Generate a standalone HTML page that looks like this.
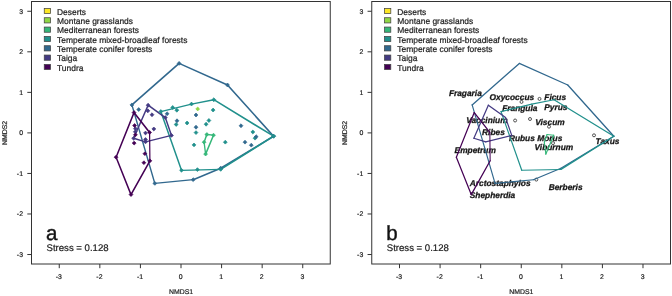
<!DOCTYPE html>
<html><head><meta charset="utf-8"><title>NMDS</title>
<style>
html,body{margin:0;padding:0;background:#fff;}
body{width:672px;height:296px;overflow:hidden;}
svg{display:block;font-family:"Liberation Sans",sans-serif;text-rendering:geometricPrecision;}
text{stroke:#222;stroke-width:0.2px;}
.tk{font-size:6.9px;fill:#222;}
.lg{font-size:8.45px;fill:#222;}
.sp{font-size:8.35px;stroke-width:0.28px;font-weight:bold;font-style:italic;fill:#111;}
.big{font-size:20.5px;fill:#111;stroke-width:0.45px;}
.st{font-size:9.6px;fill:#222;}
</style></head><body>
<svg width="672" height="296" viewBox="0 0 672 296">
<rect width="672" height="296" fill="#fff"/>
<g transform="translate(0,0)">
<rect x="31.5" y="1.5" width="298.75" height="262.5" fill="#fff" stroke="#333" stroke-width="1"/>
<line x1="59.26" y1="264.0" x2="59.26" y2="268.2" stroke="#333" stroke-width="1"/>
<text class="tk" x="58.86" y="278.8" text-anchor="middle">-3</text>
<line x1="27.3" y1="254.52" x2="31.5" y2="254.52" stroke="#333" stroke-width="1"/>
<text class="tk" x="23.0" y="256.82" text-anchor="end">-3</text>
<line x1="99.84" y1="264.0" x2="99.84" y2="268.2" stroke="#333" stroke-width="1"/>
<text class="tk" x="99.44" y="278.8" text-anchor="middle">-2</text>
<line x1="27.3" y1="213.98" x2="31.5" y2="213.98" stroke="#333" stroke-width="1"/>
<text class="tk" x="23.0" y="216.28" text-anchor="end">-2</text>
<line x1="140.42" y1="264.0" x2="140.42" y2="268.2" stroke="#333" stroke-width="1"/>
<text class="tk" x="140.02" y="278.8" text-anchor="middle">-1</text>
<line x1="27.3" y1="173.44" x2="31.5" y2="173.44" stroke="#333" stroke-width="1"/>
<text class="tk" x="23.0" y="175.74" text-anchor="end">-1</text>
<line x1="181.00" y1="264.0" x2="181.00" y2="268.2" stroke="#333" stroke-width="1"/>
<text class="tk" x="180.60" y="278.8" text-anchor="middle">0</text>
<line x1="27.3" y1="132.90" x2="31.5" y2="132.90" stroke="#333" stroke-width="1"/>
<text class="tk" x="23.0" y="135.20" text-anchor="end">0</text>
<line x1="221.58" y1="264.0" x2="221.58" y2="268.2" stroke="#333" stroke-width="1"/>
<text class="tk" x="221.18" y="278.8" text-anchor="middle">1</text>
<line x1="27.3" y1="92.36" x2="31.5" y2="92.36" stroke="#333" stroke-width="1"/>
<text class="tk" x="23.0" y="94.66" text-anchor="end">1</text>
<line x1="262.16" y1="264.0" x2="262.16" y2="268.2" stroke="#333" stroke-width="1"/>
<text class="tk" x="261.76" y="278.8" text-anchor="middle">2</text>
<line x1="27.3" y1="51.82" x2="31.5" y2="51.82" stroke="#333" stroke-width="1"/>
<text class="tk" x="23.0" y="54.12" text-anchor="end">2</text>
<line x1="302.74" y1="264.0" x2="302.74" y2="268.2" stroke="#333" stroke-width="1"/>
<text class="tk" x="302.34" y="278.8" text-anchor="middle">3</text>
<line x1="27.3" y1="11.28" x2="31.5" y2="11.28" stroke="#333" stroke-width="1"/>
<text class="tk" x="23.0" y="13.58" text-anchor="end">3</text>
<text class="tk" x="181.0" y="294.4" text-anchor="middle">NMDS1</text>
<text class="tk" transform="translate(7.2,132.9) rotate(-90)" text-anchor="middle">NMDS2</text>
<rect x="44.25" y="8.40" width="6.3" height="5.2" fill="#FDE725" stroke="#444" stroke-width="0.75"/>
<text class="lg" x="57" y="14.60">Deserts</text>
<rect x="44.25" y="17.73" width="6.3" height="5.2" fill="#8FD744" stroke="#444" stroke-width="0.75"/>
<text class="lg" x="57" y="23.93">Montane grasslands</text>
<rect x="44.25" y="27.06" width="6.3" height="5.2" fill="#35B779" stroke="#444" stroke-width="0.75"/>
<text class="lg" x="57" y="33.26">Mediterranean forests</text>
<rect x="44.25" y="36.39" width="6.3" height="5.2" fill="#21908C" stroke="#444" stroke-width="0.75"/>
<text class="lg" x="57" y="42.59">Temperate mixed-broadleaf forests</text>
<rect x="44.25" y="45.72" width="6.3" height="5.2" fill="#31688E" stroke="#444" stroke-width="0.75"/>
<text class="lg" x="57" y="51.92">Temperate conifer forests</text>
<rect x="44.25" y="55.05" width="6.3" height="5.2" fill="#443A83" stroke="#444" stroke-width="0.75"/>
<text class="lg" x="57" y="61.25">Taiga</text>
<rect x="44.25" y="64.38" width="6.3" height="5.2" fill="#440154" stroke="#444" stroke-width="0.75"/>
<text class="lg" x="57" y="70.58">Tundra</text>
<line x1="131.9" y1="104.9" x2="179.1" y2="63.4" stroke="#31688E" stroke-width="1.62" stroke-linecap="round"/>
<line x1="179.1" y1="63.4" x2="227.5" y2="85" stroke="#31688E" stroke-width="1.53" stroke-linecap="round"/>
<line x1="227.5" y1="85" x2="273.6" y2="136.2" stroke="#31688E" stroke-width="1.62" stroke-linecap="round"/>
<line x1="273.6" y1="136.2" x2="220.7" y2="168.2" stroke="#31688E" stroke-width="1.58" stroke-linecap="round"/>
<line x1="220.7" y1="168.2" x2="193.2" y2="179.7" stroke="#31688E" stroke-width="1.51" stroke-linecap="round"/>
<line x1="193.2" y1="179.7" x2="154.8" y2="183.4" stroke="#31688E" stroke-width="1.29" stroke-linecap="round"/>
<line x1="154.8" y1="183.4" x2="131.9" y2="104.9" stroke="#31688E" stroke-width="1.44" stroke-linecap="round"/>
<line x1="160.8" y1="111.6" x2="191.5" y2="104.1" stroke="#21908C" stroke-width="1.41" stroke-linecap="round"/>
<line x1="191.5" y1="104.1" x2="213.8" y2="99.7" stroke="#21908C" stroke-width="1.38" stroke-linecap="round"/>
<line x1="213.8" y1="99.7" x2="273.6" y2="136.2" stroke="#21908C" stroke-width="1.58" stroke-linecap="round"/>
<line x1="273.6" y1="136.2" x2="220.7" y2="169.4" stroke="#21908C" stroke-width="1.58" stroke-linecap="round"/>
<line x1="220.7" y1="169.4" x2="181.5" y2="170.3" stroke="#21908C" stroke-width="1.22" stroke-linecap="round"/>
<line x1="181.5" y1="170.3" x2="160.8" y2="111.6" stroke="#21908C" stroke-width="1.48" stroke-linecap="round"/>
<line x1="206.8" y1="134.5" x2="213.5" y2="135.2" stroke="#35B779" stroke-width="1.30" stroke-linecap="round"/>
<line x1="213.5" y1="135.2" x2="205.6" y2="154.1" stroke="#35B779" stroke-width="1.51" stroke-linecap="round"/>
<line x1="205.6" y1="154.1" x2="204.1" y2="142.2" stroke="#35B779" stroke-width="1.32" stroke-linecap="round"/>
<line x1="204.1" y1="142.2" x2="206.8" y2="134.5" stroke="#35B779" stroke-width="1.48" stroke-linecap="round"/>
<line x1="148.1" y1="105.2" x2="165.3" y2="117.6" stroke="#443A83" stroke-width="1.60" stroke-linecap="round"/>
<line x1="165.3" y1="117.6" x2="171.5" y2="135.4" stroke="#443A83" stroke-width="1.48" stroke-linecap="round"/>
<line x1="171.5" y1="135.4" x2="145.5" y2="141.9" stroke="#443A83" stroke-width="1.42" stroke-linecap="round"/>
<line x1="145.5" y1="141.9" x2="133.6" y2="138.3" stroke="#443A83" stroke-width="1.45" stroke-linecap="round"/>
<line x1="133.6" y1="138.3" x2="148.1" y2="105.2" stroke="#443A83" stroke-width="1.52" stroke-linecap="round"/>
<line x1="134" y1="112.6" x2="149.6" y2="132.4" stroke="#440154" stroke-width="1.61" stroke-linecap="round"/>
<line x1="149.6" y1="132.4" x2="149.9" y2="160.8" stroke="#440154" stroke-width="1.21" stroke-linecap="round"/>
<line x1="149.9" y1="160.8" x2="131" y2="194.6" stroke="#440154" stroke-width="1.57" stroke-linecap="round"/>
<line x1="131" y1="194.6" x2="116.1" y2="157.2" stroke="#440154" stroke-width="1.50" stroke-linecap="round"/>
<line x1="116.1" y1="157.2" x2="134" y2="112.6" stroke="#440154" stroke-width="1.50" stroke-linecap="round"/>
<path d="M130.0 104.9L131.9 103.0L133.8 104.9L131.9 106.9Z" fill="#31688E" stroke="#31688E" stroke-width="0.7" stroke-linejoin="round"/>
<path d="M177.2 63.4L179.1 61.4L181.0 63.4L179.1 65.3Z" fill="#31688E" stroke="#31688E" stroke-width="0.7" stroke-linejoin="round"/>
<path d="M225.6 85L227.5 83.0L229.4 85L227.5 87.0Z" fill="#31688E" stroke="#31688E" stroke-width="0.7" stroke-linejoin="round"/>
<path d="M271.7 136.2L273.6 134.2L275.6 136.2L273.6 138.1Z" fill="#31688E" stroke="#31688E" stroke-width="0.7" stroke-linejoin="round"/>
<path d="M218.8 168.2L220.7 166.2L222.6 168.2L220.7 170.1Z" fill="#31688E" stroke="#31688E" stroke-width="0.7" stroke-linejoin="round"/>
<path d="M191.2 179.7L193.2 177.8L195.1 179.7L193.2 181.6Z" fill="#31688E" stroke="#31688E" stroke-width="0.7" stroke-linejoin="round"/>
<path d="M152.9 183.4L154.8 181.5L156.8 183.4L154.8 185.3Z" fill="#31688E" stroke="#31688E" stroke-width="0.7" stroke-linejoin="round"/>
<path d="M158.9 111.6L160.8 109.6L162.8 111.6L160.8 113.5Z" fill="#21908C" stroke="#21908C" stroke-width="0.7" stroke-linejoin="round"/>
<path d="M189.6 104.1L191.5 102.1L193.4 104.1L191.5 106.0Z" fill="#21908C" stroke="#21908C" stroke-width="0.7" stroke-linejoin="round"/>
<path d="M211.9 99.7L213.8 97.8L215.8 99.7L213.8 101.7Z" fill="#21908C" stroke="#21908C" stroke-width="0.7" stroke-linejoin="round"/>
<path d="M271.7 136.2L273.6 134.2L275.6 136.2L273.6 138.1Z" fill="#21908C" stroke="#21908C" stroke-width="0.7" stroke-linejoin="round"/>
<path d="M218.8 169.4L220.7 167.5L222.6 169.4L220.7 171.3Z" fill="#21908C" stroke="#21908C" stroke-width="0.7" stroke-linejoin="round"/>
<path d="M179.6 170.3L181.5 168.4L183.4 170.3L181.5 172.2Z" fill="#21908C" stroke="#21908C" stroke-width="0.7" stroke-linejoin="round"/>
<path d="M204.9 134.5L206.8 132.6L208.8 134.5L206.8 136.4Z" fill="#35B779" stroke="#35B779" stroke-width="0.7" stroke-linejoin="round"/>
<path d="M211.6 135.2L213.5 133.2L215.4 135.2L213.5 137.1Z" fill="#35B779" stroke="#35B779" stroke-width="0.7" stroke-linejoin="round"/>
<path d="M203.7 154.1L205.6 152.2L207.5 154.1L205.6 156.0Z" fill="#35B779" stroke="#35B779" stroke-width="0.7" stroke-linejoin="round"/>
<path d="M202.2 142.2L204.1 140.2L206.0 142.2L204.1 144.1Z" fill="#35B779" stroke="#35B779" stroke-width="0.7" stroke-linejoin="round"/>
<path d="M146.2 105.2L148.1 103.2L150.0 105.2L148.1 107.2Z" fill="#443A83" stroke="#443A83" stroke-width="0.7" stroke-linejoin="round"/>
<path d="M163.4 117.6L165.3 115.6L167.2 117.6L165.3 119.5Z" fill="#443A83" stroke="#443A83" stroke-width="0.7" stroke-linejoin="round"/>
<path d="M169.6 135.4L171.5 133.5L173.4 135.4L171.5 137.3Z" fill="#443A83" stroke="#443A83" stroke-width="0.7" stroke-linejoin="round"/>
<path d="M143.6 141.9L145.5 140.0L147.4 141.9L145.5 143.8Z" fill="#443A83" stroke="#443A83" stroke-width="0.7" stroke-linejoin="round"/>
<path d="M131.7 138.3L133.6 136.4L135.5 138.3L133.6 140.2Z" fill="#443A83" stroke="#443A83" stroke-width="0.7" stroke-linejoin="round"/>
<path d="M132.1 112.6L134 110.6L135.9 112.6L134 114.5Z" fill="#440154" stroke="#440154" stroke-width="0.7" stroke-linejoin="round"/>
<path d="M147.7 132.4L149.6 130.5L151.5 132.4L149.6 134.3Z" fill="#440154" stroke="#440154" stroke-width="0.7" stroke-linejoin="round"/>
<path d="M148.0 160.8L149.9 158.9L151.8 160.8L149.9 162.8Z" fill="#440154" stroke="#440154" stroke-width="0.7" stroke-linejoin="round"/>
<path d="M129.1 194.6L131 192.7L132.9 194.6L131 196.5Z" fill="#440154" stroke="#440154" stroke-width="0.7" stroke-linejoin="round"/>
<path d="M114.1 157.2L116.1 155.2L118.0 157.2L116.1 159.1Z" fill="#440154" stroke="#440154" stroke-width="0.7" stroke-linejoin="round"/>
<path d="M195.8 108.9L197.7 107.0L199.6 108.9L197.7 110.9Z" fill="#8FD744" stroke="#8FD744" stroke-width="0.7" stroke-linejoin="round"/>
<path d="M211.2 110.1L213.1 108.1L215.0 110.1L213.1 112.0Z" fill="#21908C" stroke="#21908C" stroke-width="0.7" stroke-linejoin="round"/>
<path d="M207.0 120.5L208.9 118.5L210.8 120.5L208.9 122.5Z" fill="#21908C" stroke="#21908C" stroke-width="0.7" stroke-linejoin="round"/>
<path d="M204.2 124.2L206.1 122.2L208.0 124.2L206.1 126.2Z" fill="#21908C" stroke="#21908C" stroke-width="0.7" stroke-linejoin="round"/>
<path d="M194.1 132.6L196 130.7L197.9 132.6L196 134.5Z" fill="#21908C" stroke="#21908C" stroke-width="0.7" stroke-linejoin="round"/>
<path d="M250.9 132L252.8 130.1L254.8 132L252.8 133.9Z" fill="#21908C" stroke="#21908C" stroke-width="0.7" stroke-linejoin="round"/>
<path d="M192.1 144.9L194 143.0L195.9 144.9L194 146.8Z" fill="#21908C" stroke="#21908C" stroke-width="0.7" stroke-linejoin="round"/>
<path d="M223.4 142.2L225.3 140.2L227.2 142.2L225.3 144.1Z" fill="#21908C" stroke="#21908C" stroke-width="0.7" stroke-linejoin="round"/>
<path d="M253.1 138.2L255 136.2L256.9 138.2L255 140.1Z" fill="#21908C" stroke="#21908C" stroke-width="0.7" stroke-linejoin="round"/>
<path d="M195.5 169.6L197.4 167.7L199.3 169.6L197.4 171.5Z" fill="#21908C" stroke="#21908C" stroke-width="0.7" stroke-linejoin="round"/>
<path d="M170.8 107.5L172.7 105.5L174.6 107.5L172.7 109.5Z" fill="#21908C" stroke="#21908C" stroke-width="0.7" stroke-linejoin="round"/>
<path d="M174.9 110.2L176.8 108.2L178.8 110.2L176.8 112.2Z" fill="#21908C" stroke="#21908C" stroke-width="0.7" stroke-linejoin="round"/>
<path d="M174.2 124.4L176.2 122.5L178.1 124.4L176.2 126.4Z" fill="#21908C" stroke="#21908C" stroke-width="0.7" stroke-linejoin="round"/>
<path d="M194.1 115L196 113.0L197.9 115L196 117.0Z" fill="#31688E" stroke="#31688E" stroke-width="0.7" stroke-linejoin="round"/>
<path d="M194.1 127.2L196 125.2L197.9 127.2L196 129.2Z" fill="#31688E" stroke="#31688E" stroke-width="0.7" stroke-linejoin="round"/>
<path d="M239.1 125.7L241 123.8L242.9 125.7L241 127.7Z" fill="#31688E" stroke="#31688E" stroke-width="0.7" stroke-linejoin="round"/>
<path d="M243.1 142.2L245 140.2L246.9 142.2L245 144.1Z" fill="#31688E" stroke="#31688E" stroke-width="0.7" stroke-linejoin="round"/>
<path d="M254.2 136.7L256.2 134.8L258.1 136.7L256.2 138.6Z" fill="#31688E" stroke="#31688E" stroke-width="0.7" stroke-linejoin="round"/>
<path d="M249.4 145.2L251.3 143.2L253.2 145.2L251.3 147.1Z" fill="#31688E" stroke="#31688E" stroke-width="0.7" stroke-linejoin="round"/>
<path d="M136.8 109.6L138.7 107.6L140.6 109.6L138.7 111.5Z" fill="#31688E" stroke="#31688E" stroke-width="0.7" stroke-linejoin="round"/>
<path d="M165.2 113.7L167.1 111.8L169.0 113.7L167.1 115.7Z" fill="#31688E" stroke="#31688E" stroke-width="0.7" stroke-linejoin="round"/>
<path d="M175.1 120.8L177 118.8L178.9 120.8L177 122.8Z" fill="#31688E" stroke="#31688E" stroke-width="0.7" stroke-linejoin="round"/>
<path d="M145.9 110.8L147.8 108.8L149.8 110.8L147.8 112.8Z" fill="#443A83" stroke="#443A83" stroke-width="0.7" stroke-linejoin="round"/>
<path d="M150.1 114.7L152 112.8L153.9 114.7L152 116.7Z" fill="#443A83" stroke="#443A83" stroke-width="0.7" stroke-linejoin="round"/>
<path d="M151.9 129L153.8 127.0L155.8 129L153.8 130.9Z" fill="#443A83" stroke="#443A83" stroke-width="0.7" stroke-linejoin="round"/>
<path d="M133.5 128.7L135.4 126.7L137.3 128.7L135.4 130.6Z" fill="#443A83" stroke="#443A83" stroke-width="0.7" stroke-linejoin="round"/>
<path d="M143.6 133L145.5 131.1L147.4 133L145.5 134.9Z" fill="#443A83" stroke="#443A83" stroke-width="0.7" stroke-linejoin="round"/>
<path d="M143.6 139.5L145.5 137.6L147.4 139.5L145.5 141.4Z" fill="#443A83" stroke="#443A83" stroke-width="0.7" stroke-linejoin="round"/>
<path d="M133.4 131.8L135.3 129.9L137.2 131.8L135.3 133.8Z" fill="#443A83" stroke="#443A83" stroke-width="0.7" stroke-linejoin="round"/>
<path d="M132.7 125.6L134.6 123.6L136.5 125.6L134.6 127.5Z" fill="#440154" stroke="#440154" stroke-width="0.7" stroke-linejoin="round"/>
<path d="M133.5 134.8L135.4 132.9L137.3 134.8L135.4 136.8Z" fill="#440154" stroke="#440154" stroke-width="0.7" stroke-linejoin="round"/>
<path d="M132.2 143.1L134.2 141.2L136.1 143.1L134.2 145.0Z" fill="#440154" stroke="#440154" stroke-width="0.7" stroke-linejoin="round"/>
<path d="M143.0 153.7L144.9 151.8L146.8 153.7L144.9 155.6Z" fill="#440154" stroke="#440154" stroke-width="0.7" stroke-linejoin="round"/>
<path d="M142.0 162.7L143.9 160.8L145.8 162.7L143.9 164.6Z" fill="#440154" stroke="#440154" stroke-width="0.7" stroke-linejoin="round"/>
<path d="M185.2 123L187.1 121.0L189.0 123L187.1 125.0Z" fill="#21908C" stroke="#21908C" stroke-width="0.7" stroke-linejoin="round"/>
<text class="big" x="46" y="240.2">a</text>
<text class="st" x="46.5" y="250.7">Stress = 0.128</text>
</g>
<g transform="translate(340.25,0)">
<rect x="31.5" y="1.5" width="298.75" height="262.5" fill="#fff" stroke="#333" stroke-width="1"/>
<line x1="59.26" y1="264.0" x2="59.26" y2="268.2" stroke="#333" stroke-width="1"/>
<text class="tk" x="58.86" y="278.8" text-anchor="middle">-3</text>
<line x1="27.3" y1="254.52" x2="31.5" y2="254.52" stroke="#333" stroke-width="1"/>
<text class="tk" x="23.0" y="256.82" text-anchor="end">-3</text>
<line x1="99.84" y1="264.0" x2="99.84" y2="268.2" stroke="#333" stroke-width="1"/>
<text class="tk" x="99.44" y="278.8" text-anchor="middle">-2</text>
<line x1="27.3" y1="213.98" x2="31.5" y2="213.98" stroke="#333" stroke-width="1"/>
<text class="tk" x="23.0" y="216.28" text-anchor="end">-2</text>
<line x1="140.42" y1="264.0" x2="140.42" y2="268.2" stroke="#333" stroke-width="1"/>
<text class="tk" x="140.02" y="278.8" text-anchor="middle">-1</text>
<line x1="27.3" y1="173.44" x2="31.5" y2="173.44" stroke="#333" stroke-width="1"/>
<text class="tk" x="23.0" y="175.74" text-anchor="end">-1</text>
<line x1="181.00" y1="264.0" x2="181.00" y2="268.2" stroke="#333" stroke-width="1"/>
<text class="tk" x="180.60" y="278.8" text-anchor="middle">0</text>
<line x1="27.3" y1="132.90" x2="31.5" y2="132.90" stroke="#333" stroke-width="1"/>
<text class="tk" x="23.0" y="135.20" text-anchor="end">0</text>
<line x1="221.58" y1="264.0" x2="221.58" y2="268.2" stroke="#333" stroke-width="1"/>
<text class="tk" x="221.18" y="278.8" text-anchor="middle">1</text>
<line x1="27.3" y1="92.36" x2="31.5" y2="92.36" stroke="#333" stroke-width="1"/>
<text class="tk" x="23.0" y="94.66" text-anchor="end">1</text>
<line x1="262.16" y1="264.0" x2="262.16" y2="268.2" stroke="#333" stroke-width="1"/>
<text class="tk" x="261.76" y="278.8" text-anchor="middle">2</text>
<line x1="27.3" y1="51.82" x2="31.5" y2="51.82" stroke="#333" stroke-width="1"/>
<text class="tk" x="23.0" y="54.12" text-anchor="end">2</text>
<line x1="302.74" y1="264.0" x2="302.74" y2="268.2" stroke="#333" stroke-width="1"/>
<text class="tk" x="302.34" y="278.8" text-anchor="middle">3</text>
<line x1="27.3" y1="11.28" x2="31.5" y2="11.28" stroke="#333" stroke-width="1"/>
<text class="tk" x="23.0" y="13.58" text-anchor="end">3</text>
<text class="tk" x="181.0" y="294.4" text-anchor="middle">NMDS1</text>
<text class="tk" transform="translate(7.2,132.9) rotate(-90)" text-anchor="middle">NMDS2</text>
<rect x="44.25" y="8.40" width="6.3" height="5.2" fill="#FDE725" stroke="#444" stroke-width="0.75"/>
<text class="lg" x="57" y="14.60">Deserts</text>
<rect x="44.25" y="17.73" width="6.3" height="5.2" fill="#8FD744" stroke="#444" stroke-width="0.75"/>
<text class="lg" x="57" y="23.93">Montane grasslands</text>
<rect x="44.25" y="27.06" width="6.3" height="5.2" fill="#35B779" stroke="#444" stroke-width="0.75"/>
<text class="lg" x="57" y="33.26">Mediterranean forests</text>
<rect x="44.25" y="36.39" width="6.3" height="5.2" fill="#21908C" stroke="#444" stroke-width="0.75"/>
<text class="lg" x="57" y="42.59">Temperate mixed-broadleaf forests</text>
<rect x="44.25" y="45.72" width="6.3" height="5.2" fill="#31688E" stroke="#444" stroke-width="0.75"/>
<text class="lg" x="57" y="51.92">Temperate conifer forests</text>
<rect x="44.25" y="55.05" width="6.3" height="5.2" fill="#443A83" stroke="#444" stroke-width="0.75"/>
<text class="lg" x="57" y="61.25">Taiga</text>
<rect x="44.25" y="64.38" width="6.3" height="5.2" fill="#440154" stroke="#444" stroke-width="0.75"/>
<text class="lg" x="57" y="70.58">Tundra</text>
<circle cx="181.25" cy="101.9" r="1.5" fill="none" stroke="#111" stroke-width="0.7"/>
<circle cx="199.25" cy="98.9" r="1.5" fill="none" stroke="#111" stroke-width="0.7"/>
<circle cx="174.85" cy="120.5" r="1.5" fill="none" stroke="#111" stroke-width="0.7"/>
<circle cx="189.75" cy="119" r="1.5" fill="none" stroke="#111" stroke-width="0.7"/>
<circle cx="208.75" cy="126.7" r="1.5" fill="none" stroke="#111" stroke-width="0.7"/>
<circle cx="212.75" cy="143.1" r="1.5" fill="none" stroke="#111" stroke-width="0.7"/>
<circle cx="253.75" cy="135.3" r="1.5" fill="none" stroke="#111" stroke-width="0.7"/>
<circle cx="196.05" cy="179.6" r="1.5" fill="none" stroke="#111" stroke-width="0.7"/>
<text class="sp" x="108.65" y="96.10">Fragaria</text>
<text class="sp" x="149.35" y="99.80">Oxycoccus</text>
<text class="sp" x="161.95" y="111.00">Frangula</text>
<text class="sp" x="125.95" y="122.90">Vaccinium</text>
<text class="sp" x="204.05" y="99.80">Ficus</text>
<text class="sp" x="204.05" y="109.50">Pyrus</text>
<text class="sp" x="195.05" y="124.70">Viscum</text>
<text class="sp" x="141.85" y="135.10">Ribes</text>
<text class="sp" x="168.65" y="141.00">Rubus</text>
<text class="sp" x="114.35" y="153.20">Empetrum</text>
<text class="sp" x="197.05" y="140.60">Morus</text>
<text class="sp" x="194.35" y="149.80">Viburnum</text>
<text class="sp" x="255.35" y="143.60">Taxus</text>
<text class="sp" x="129.55" y="186.10">Arctostaphylos</text>
<text class="sp" x="129.55" y="197.70">Shepherdia</text>
<text class="sp" x="208.45" y="189.50">Berberis</text>
<line x1="131.9" y1="104.9" x2="179.1" y2="63.4" stroke="#31688E" stroke-width="1.30" stroke-linecap="round"/>
<line x1="179.1" y1="63.4" x2="227.5" y2="85" stroke="#31688E" stroke-width="1.23" stroke-linecap="round"/>
<line x1="227.5" y1="85" x2="273.6" y2="136.2" stroke="#31688E" stroke-width="1.30" stroke-linecap="round"/>
<line x1="273.6" y1="136.2" x2="220.7" y2="168.2" stroke="#31688E" stroke-width="1.27" stroke-linecap="round"/>
<line x1="220.7" y1="168.2" x2="193.2" y2="179.7" stroke="#31688E" stroke-width="1.22" stroke-linecap="round"/>
<line x1="193.2" y1="179.7" x2="154.8" y2="183.4" stroke="#31688E" stroke-width="1.07" stroke-linecap="round"/>
<line x1="154.8" y1="183.4" x2="131.9" y2="104.9" stroke="#31688E" stroke-width="1.17" stroke-linecap="round"/>
<line x1="160.8" y1="111.6" x2="191.5" y2="104.1" stroke="#21908C" stroke-width="1.15" stroke-linecap="round"/>
<line x1="191.5" y1="104.1" x2="213.8" y2="99.7" stroke="#21908C" stroke-width="1.13" stroke-linecap="round"/>
<line x1="213.8" y1="99.7" x2="273.6" y2="136.2" stroke="#21908C" stroke-width="1.27" stroke-linecap="round"/>
<line x1="273.6" y1="136.2" x2="220.7" y2="169.4" stroke="#21908C" stroke-width="1.27" stroke-linecap="round"/>
<line x1="220.7" y1="169.4" x2="181.5" y2="170.3" stroke="#21908C" stroke-width="1.02" stroke-linecap="round"/>
<line x1="181.5" y1="170.3" x2="160.8" y2="111.6" stroke="#21908C" stroke-width="1.20" stroke-linecap="round"/>
<line x1="206.8" y1="134.5" x2="213.5" y2="135.2" stroke="#35B779" stroke-width="1.07" stroke-linecap="round"/>
<line x1="213.5" y1="135.2" x2="205.6" y2="154.1" stroke="#35B779" stroke-width="1.22" stroke-linecap="round"/>
<line x1="205.6" y1="154.1" x2="204.1" y2="142.2" stroke="#35B779" stroke-width="1.08" stroke-linecap="round"/>
<line x1="204.1" y1="142.2" x2="206.8" y2="134.5" stroke="#35B779" stroke-width="1.20" stroke-linecap="round"/>
<line x1="148.1" y1="105.2" x2="165.3" y2="117.6" stroke="#443A83" stroke-width="1.29" stroke-linecap="round"/>
<line x1="165.3" y1="117.6" x2="171.5" y2="135.4" stroke="#443A83" stroke-width="1.20" stroke-linecap="round"/>
<line x1="171.5" y1="135.4" x2="145.5" y2="141.9" stroke="#443A83" stroke-width="1.15" stroke-linecap="round"/>
<line x1="145.5" y1="141.9" x2="133.6" y2="138.3" stroke="#443A83" stroke-width="1.18" stroke-linecap="round"/>
<line x1="133.6" y1="138.3" x2="148.1" y2="105.2" stroke="#443A83" stroke-width="1.23" stroke-linecap="round"/>
<line x1="134" y1="112.6" x2="149.6" y2="132.4" stroke="#440154" stroke-width="1.29" stroke-linecap="round"/>
<line x1="149.6" y1="132.4" x2="149.9" y2="160.8" stroke="#440154" stroke-width="1.01" stroke-linecap="round"/>
<line x1="149.9" y1="160.8" x2="131" y2="194.6" stroke="#440154" stroke-width="1.26" stroke-linecap="round"/>
<line x1="131" y1="194.6" x2="116.1" y2="157.2" stroke="#440154" stroke-width="1.22" stroke-linecap="round"/>
<line x1="116.1" y1="157.2" x2="134" y2="112.6" stroke="#440154" stroke-width="1.22" stroke-linecap="round"/>
<text class="big" x="46" y="240.2">b</text>
<text class="st" x="46.5" y="250.7">Stress = 0.128</text>
</g>
</svg></body></html>
